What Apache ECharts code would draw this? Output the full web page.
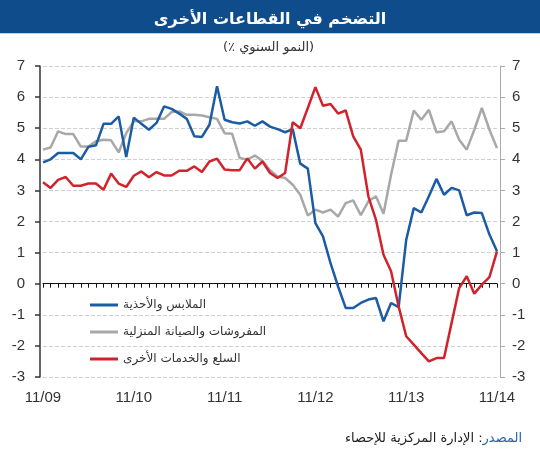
<!DOCTYPE html>
<html>
<head>
<meta charset="utf-8">
<script src="https://cdn.jsdelivr.net/npm/echarts@6/dist/echarts.min.js"></script>
<style>
  html, body { margin: 0; padding: 0; background: #fff; }
  #chart { width: 540px; height: 450px; }
</style>
</head>
<body>
<div id="chart"></div>
<script>
  // monthly, 11/09 .. 11/14
  const months = [
    '11/09', '12/09', '01/10', '02/10', '03/10', '04/10', '05/10', '06/10', '07/10', '08/10', '09/10', '10/10',
    '11/10', '12/10', '01/11', '02/11', '03/11', '04/11', '05/11', '06/11', '07/11', '08/11', '09/11', '10/11',
    '11/11', '12/11', '01/12', '02/12', '03/12', '04/12', '05/12', '06/12', '07/12', '08/12', '09/12', '10/12',
    '11/12', '12/12', '01/13', '02/13', '03/13', '04/13', '05/13', '06/13', '07/13', '08/13', '09/13', '10/13',
    '11/13', '12/13', '01/14', '02/14', '03/14', '04/14', '05/14', '06/14', '07/14', '08/14', '09/14', '10/14',
    '11/14'
  ]

  const seriesNames = ['الملابس والأحذية', 'المفروشات والصيانة المنزلية', 'السلع والخدمات الأخرى']

  // الملابس والأحذية
  const clothing = [
    3.9, 4.0, 4.2, 4.2, 4.2, 4.0, 4.4, 4.45, 5.14, 5.14, 5.38, 4.07,
    5.34, 5.14, 4.95, 5.17, 5.7, 5.62, 5.47, 5.3, 4.74, 4.72, 5.11, 6.35,
    5.27, 5.19, 5.15, 5.22, 5.08, 5.22, 5.05, 4.97, 4.87, 4.97, 3.86, 3.7,
    1.95, 1.52, 0.66, -0.09, -0.78, -0.78, -0.62, -0.51, -0.46, -1.21, -0.62, -0.75,
    1.41, 2.43, 2.29, 2.81, 3.37, 2.86, 3.08, 3.0, 2.2, 2.29, 2.27, 1.58,
    1.04
  ]
  // المفروشات والصيانة المنزلية
  const furnishing = [
    4.31, 4.38, 4.9, 4.81, 4.81, 4.41, 4.41, 4.58, 4.63, 4.61, 4.22, 4.84,
    5.22, 5.22, 5.3, 5.3, 5.3, 5.52, 5.54, 5.43, 5.43, 5.41, 5.35, 5.3,
    4.84, 4.82, 4.04, 3.99, 4.12, 3.95, 3.65, 3.45, 3.4, 3.18, 2.86, 2.19,
    2.38, 2.29, 2.38, 2.16, 2.59, 2.68, 2.2, 2.65, 2.81, 2.25, 3.5, 4.6,
    4.6, 5.57, 5.27, 5.59, 4.87, 4.9, 5.22, 4.63, 4.31, 4.95, 5.65, 4.95,
    4.36
  ]
  // السلع والخدمات الأخرى
  const otherGoods = [
    3.26, 3.08, 3.34, 3.43, 3.15, 3.15, 3.22, 3.22, 3.02, 3.54, 3.22, 3.11,
    3.47, 3.61, 3.42, 3.59, 3.48, 3.48, 3.63, 3.63, 3.77, 3.59, 3.93, 4.02,
    3.67, 3.65, 3.65, 4.03, 3.7, 3.93, 3.56, 3.4, 3.56, 5.19, 5.0, 5.65,
    6.32, 5.72, 5.78, 5.47, 5.57, 4.74, 4.31, 2.81, 2.06, 0.93, 0.4, -0.73,
    -1.69, -1.96, -2.23, -2.5, -2.39, -2.39, -1.26, -0.14, 0.24, -0.32, -0.03, 0.21,
    1.04
  ]

  const colors = ['#1b5ca5', '#a8a8a8', '#d1232b']
  const NUM_FONT = 'Arial, "Liberation Sans", sans-serif'
  const AR_FONT = '"DejaVu Sans", sans-serif'

  let myChart = echarts.init(document.getElementById('chart'))

  let option = {
    animation: false,
    color: colors,
    title: [
      {
        text: 'التضخم في القطاعات الأخرى',
        left: 'center',
        top: 7,
        textStyle: { color: '#fff', fontSize: 16, fontWeight: 'bold', fontFamily: AR_FONT }
      },
      {
        text: '(٪ النمو السنوي)',
        left: 218,
        top: 36,
        textStyle: { color: '#333', fontSize: 13, fontWeight: 'normal', fontFamily: AR_FONT }
      },
      {
        text: '{b|الإدارة المركزية للإحصاء :}{a|المصدر}',
        right: 13,
        top: 427,
        textStyle: {
          fontFamily: AR_FONT,
          fontWeight: 'normal',
          rich: {
            a: { color: '#2a62a8', fontSize: 13, fontWeight: 'normal', fontFamily: AR_FONT },
            b: { color: '#222', fontSize: 13, fontWeight: 'normal', fontFamily: AR_FONT }
          }
        }
      }
    ],
    graphic: [
      {
        type: 'rect',
        left: 0,
        top: 0,
        z: -1,
        shape: { width: 540, height: 33 },
        style: { fill: '#0f4c8c' }
      },
      {
        type: 'rect',
        left: 0,
        top: 33,
        z: -1,
        shape: { width: 540, height: 1 },
        style: { fill: '#b9cde3' }
      }
    ],
    legend: {
      data: seriesNames,
      orient: 'vertical',
      left: 85,
      top: 293,
      itemWidth: 28,
      itemHeight: 3,
      itemGap: 13,
      icon: 'rect',
      textStyle: { color: '#333', fontSize: 12, lineHeight: 14, fontFamily: AR_FONT }
    },
    grid: {
      left: 43,
      right: 43,
      top: 66,
      bottom: 73
    },
    xAxis: [
      {
        type: 'category',
        data: months,
        boundaryGap: false,
        position: 'bottom',
        axisLine: { show: false, onZero: false },
        axisTick: { show: false },
        splitLine: { show: false },
        axisLabel: {
          interval: 11,
          margin: 13,
          color: '#333',
          fontSize: 15,
          fontFamily: NUM_FONT
        }
      },
      {
        // zero line with monthly ticks
        type: 'category',
        data: months,
        boundaryGap: false,
        position: 'bottom',
        axisLine: { show: true, onZero: true, onZeroAxisIndex: 0, lineStyle: { color: '#111', width: 1 } },
        axisTick: { show: true, interval: 0, length: 4, lineStyle: { color: '#111', width: 1 } },
        axisLabel: { show: false },
        splitLine: { show: false }
      }
    ],
    yAxis: [
      {
        type: 'value',
        min: -3,
        max: 7,
        interval: 1,
        position: 'left',
        offset: 3,
        axisLine: { show: true, lineStyle: { color: '#333', width: 1.5 } },
        axisTick: { show: true, length: 5, lineStyle: { color: '#333', width: 1.5 } },
        axisLabel: { color: '#333', fontSize: 15, margin: 15, fontFamily: NUM_FONT },
        splitLine: {
          show: true,
          lineStyle: { color: '#cfcfcf', type: 'dashed', width: 1 }
        }
      },
      {
        type: 'value',
        min: -3,
        max: 7,
        interval: 1,
        position: 'right',
        offset: 3,
        axisLine: { show: true, lineStyle: { color: '#aaa', width: 1 } },
        axisTick: { show: true, length: 5, lineStyle: { color: '#aaa', width: 1 } },
        axisLabel: { color: '#333', fontSize: 15, margin: 12, fontFamily: NUM_FONT },
        splitLine: { show: false }
      }
    ],
    series: [
      {
        name: seriesNames[0],
        type: 'line',
        data: clothing,
        showSymbol: false,
        lineStyle: { width: 2.5, color: colors[0] },
        z: 3
      },
      {
        name: seriesNames[1],
        type: 'line',
        data: furnishing,
        showSymbol: false,
        lineStyle: { width: 2.5, color: colors[1] },
        z: 2
      },
      {
        name: seriesNames[2],
        type: 'line',
        data: otherGoods,
        showSymbol: false,
        lineStyle: { width: 2.5, color: colors[2] },
        z: 4
      }
    ]
  }

  myChart.setOption(option)
  window.addEventListener('resize', function() {
    myChart.resize()
  })
</script>
</body>
</html>
